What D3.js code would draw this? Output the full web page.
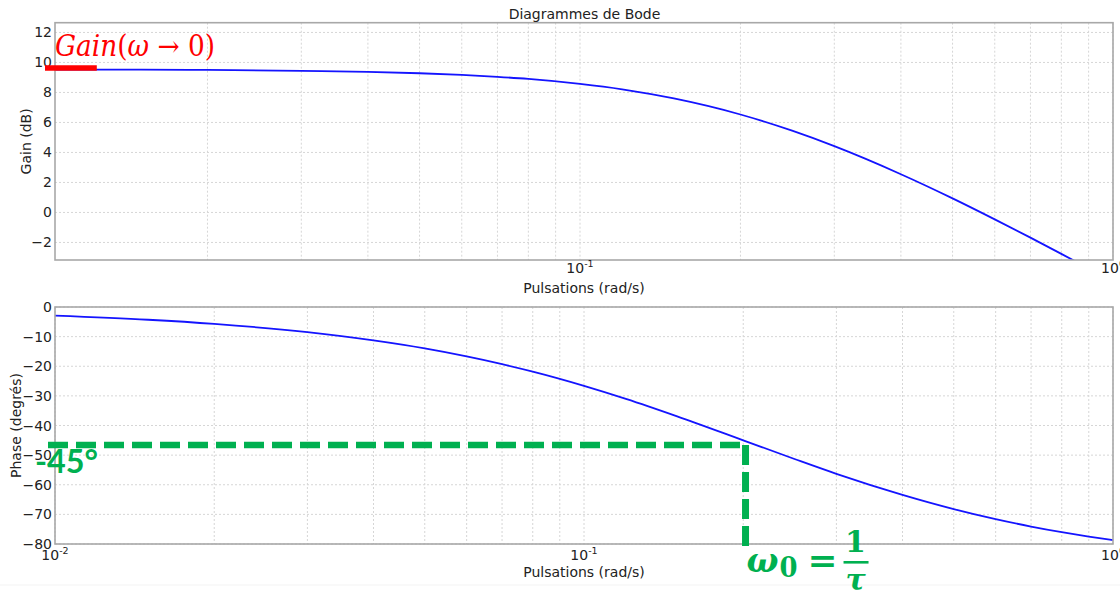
<!DOCTYPE html>
<html><head><meta charset="utf-8">
<script src="https://cdn.jsdelivr.net/npm/d3@7/dist/d3.min.js"></script>
<style>body{margin:0;background:#fff} svg{display:block;font-family:"DejaVu Sans",sans-serif}</style>
</head><body><svg id="c" width="1120" height="600"></svg>
<script>
// ---- data ----
const omega    = [0.01,0.015,0.02,0.03,0.04,0.05,0.06,0.07,0.08,0.1,0.12,0.15,0.2,0.25,0.3,0.4,0.5,0.6,0.7,0.8,0.9,1.0];
const gainDb   = [9.53,9.52,9.50,9.44,9.37,9.28,9.17,9.04,8.90,8.57,8.21,7.60,6.53,5.45,4.42,2.55,0.94,-0.46,-1.68,-2.76,-3.73,-4.61];
const phaseDeg = [-2.9,-4.3,-5.7,-8.5,-11.3,-14.0,-16.7,-19.3,-21.8,-26.6,-31.0,-36.9,-45.0,-51.3,-56.3,-63.4,-68.2,-71.6,-74.1,-76.0,-77.5,-78.7];
const gainTicks  = [-2,0,2,4,6,8,10,12];
const phaseTicks = [-80,-70,-60,-50,-40,-30,-20,-10,0];
const topDecades = [0.1,1];
const botDecades = [0.01,0.1,1];
const gainStatic = 9.63;     // red marker level
const gainMarkEnd = 0.0124;  // red marker right end (rad/s)
const omega0 = 0.202;        // green annotation
const phaseMark = -46.6;
const titleText = "Diagrammes de Bode";
const xLabel = "Pulsations (rad/s)";
const yLabelTop = "Gain (dB)";
const yLabelBot = "Phase (degrés)";

// ---- layout ----
const svg = d3.select('#c');
const L = 55, R = 1113;
const T1 = 22.7, B1 = 260, T2 = 307, B2 = 544;
const xTop = d3.scaleLog().domain([Math.pow(10,-1.985),1]).range([L,R]);
const yTop = d3.scaleLinear().domain([-3.17,12.65]).range([B1,T1]);
const xBot = d3.scaleLog().domain([0.01,1]).range([L,R]);
const yBot = d3.scaleLinear().domain([-80,0]).range([B2,T2]);

const GRID = "#d6d6d6", FRAME = "#a8a8a8", BLUE = "#1414ff", GREEN = "#00b050";

// faint separator seen at bottom of reference
svg.append("line").attr("x1",0).attr("x2",1120).attr("y1",585).attr("y2",585).attr("stroke","#f3f3f3");

function panel(x, y, top, bot, yticks, decades, clipId, vals, ylab, ylabX, xTickY, xLabY) {
  const g = svg.append("g");
  g.selectAll(".vg").data(x.ticks()).join("line")
    .attr("x1",d=>x(d)).attr("x2",d=>x(d)).attr("y1",top).attr("y2",bot)
    .attr("stroke",GRID).attr("stroke-dasharray","2,2").attr("stroke-width",1);
  g.selectAll(".hg").data(yticks).join("line")
    .attr("x1",L).attr("x2",R).attr("y1",d=>y(d)).attr("y2",d=>y(d))
    .attr("stroke",GRID).attr("stroke-dasharray","2,2").attr("stroke-width",1);
  svg.append("clipPath").attr("id",clipId).append("rect")
    .attr("x",L).attr("y",top).attr("width",R-L).attr("height",bot-top);
  const line = d3.line().x((d,i)=>x(omega[i])).y(d=>y(d)).curve(d3.curveMonotoneX);
  g.append("path").datum(vals).attr("d",line).attr("fill","none")
    .attr("stroke",BLUE).attr("stroke-width",1.8).attr("clip-path",`url(#${clipId})`);
  g.append("rect").attr("x",L).attr("y",top).attr("width",R-L).attr("height",bot-top)
    .attr("fill","none").attr("stroke",FRAME).attr("stroke-width",1.6);
  g.selectAll(".yt").data(yticks).join("text")
    .attr("x",L-3).attr("y",d=>y(d)).attr("dy","0.36em").attr("text-anchor","end")
    .attr("font-size",14).attr("fill","#222")
    .text(d=>d<0 ? "\u2212"+Math.abs(d) : String(d));
  const xt = g.selectAll(".xt").data(decades).join("text")
    .attr("x",d=>x(d)).attr("y",xTickY).attr("text-anchor","middle")
    .attr("font-size",14).attr("fill","#222");
  xt.append("tspan").text("10");
  xt.append("tspan").attr("font-size",9.5).attr("dy",-6).text(d=>String(Math.round(Math.log10(d))));
  g.append("text").attr("x",(L+R)/2).attr("y",xLabY).attr("text-anchor","middle")
    .attr("font-size",14).attr("fill","#222").text(xLabel);
  g.append("text").attr("transform",`translate(${ylabX},${(top+bot)/2}) rotate(-90)`)
    .attr("text-anchor","middle").attr("font-size",14).attr("fill","#222").text(ylab);
  return g;
}

panel(xTop, yTop, T1, B1, gainTicks, topDecades, "c1", gainDb, yLabelTop, 31, 273, 293);
panel(xBot, yBot, T2, B2, phaseTicks, botDecades, "c2", phaseDeg, yLabelBot, 21, 560, 577);

svg.append("text").attr("x",584.5).attr("y",19).attr("text-anchor","middle")
  .attr("font-size",14).attr("fill","#222").text(titleText);

// ---- red annotation ----
svg.append("line").attr("x1",L-10).attr("x2",xTop(gainMarkEnd)).attr("y1",yTop(gainStatic)).attr("y2",yTop(gainStatic))
  .attr("stroke","#ff0000").attr("stroke-width",5.5);
const rt = svg.append("text").attr("x",L).attr("y",56).attr("fill","#ff0000")
  .attr("font-family","'DejaVu Serif',serif").attr("font-size",29)
  .attr("textLength",160).attr("lengthAdjust","spacingAndGlyphs");
rt.append("tspan").attr("font-style","italic").text("Gain");
rt.append("tspan").text("(");
rt.append("tspan").attr("font-style","italic").text("ω");
rt.append("tspan").text(" → 0)");

// ---- green annotation ----
const xg = xBot(omega0), yg = yBot(phaseMark);
svg.append("line").attr("x1",L-7).attr("x2",xg).attr("y1",yg).attr("y2",yg)
  .attr("stroke",GREEN).attr("stroke-width",6.5).attr("stroke-dasharray","20,8");
svg.append("line").attr("x1",xg).attr("x2",xg).attr("y1",yg).attr("y2",B2+5)
  .attr("stroke",GREEN).attr("stroke-width",7).attr("stroke-dasharray","20,7");
svg.append("text").attr("x",35).attr("y",473).attr("fill",GREEN)
  .attr("font-family","Lato,'Open Sans',sans-serif").attr("font-weight","bold").attr("font-size",32)
  .attr("textLength",63).attr("lengthAdjust","spacingAndGlyphs").text("-45°");

const gf = svg.append("g").attr("fill",GREEN).attr("font-family","'DejaVu Serif',serif").attr("font-weight","bold");
gf.append("text").attr("x",xg+1).attr("y",572).attr("font-size",36).attr("font-style","italic")
  .attr("textLength",32).attr("lengthAdjust","spacingAndGlyphs").text("ω");
gf.append("text").attr("x",xg+34).attr("y",577).attr("font-size",28)
  .attr("textLength",18).attr("lengthAdjust","spacingAndGlyphs").text("0");
gf.append("text").attr("x",xg+62).attr("y",572).attr("font-size",34)
  .attr("textLength",30).attr("lengthAdjust","spacingAndGlyphs").text("=");
gf.append("text").attr("x",xg+110).attr("y",552).attr("font-size",30).attr("text-anchor","middle").text("1");
gf.append("rect").attr("x",xg+98).attr("y",561).attr("width",25).attr("height",2.6);
gf.append("text").attr("x",xg+110).attr("y",590).attr("font-size",30).attr("font-style","italic").attr("text-anchor","middle").text("τ");
</script></body></html>
